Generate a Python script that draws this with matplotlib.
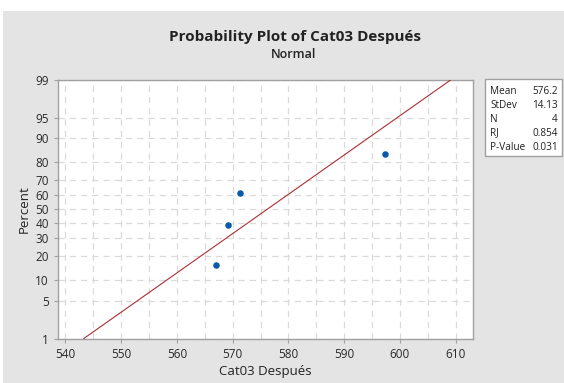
import matplotlib
matplotlib.use("Agg")
import matplotlib.pyplot as plt
from matplotlib.patches import Rectangle
from statistics import NormalDist

# data
values = [567.0, 569.2, 571.4, 597.3]
mean = 576.2
stdev = 14.13
stats_names = ["Mean", "StDev", "N", "RJ", "P-Value"]
stats_vals = ["576.2", "14.13", "4", "0.854", "0.031"]
pct_ticks = [1, 5, 10, 20, 30, 40, 50, 60, 70, 80, 90, 95, 99]
x_ticks = [540, 550, 560, 570, 580, 590, 600, 610]

plt.rcParams['font.family'] = ['Open Sans', 'DejaVu Sans']
nd = NormalDist()
n = len(values)
ranks = [(i + 1 - 0.3) / (n + 0.4) for i in range(n)]   # median ranks
z_pts = [nd.inv_cdf(r) for r in ranks]

W, H = 564, 383
fig = plt.figure(figsize=(W / 100, H / 100), dpi=100)
fig.patch.set_facecolor("white")
fig.patches.append(Rectangle((3 / W, 0), 1, 1 - 11 / H, transform=fig.transFigure,
                             facecolor="#e4e4e4", edgecolor="none", zorder=-10))

ax = fig.add_axes([58 / W, 1 - 338.5 / H, (472.5 - 58) / W, (338.5 - 80) / H])
ax.set_facecolor("white")

zlo, zhi = nd.inv_cdf(0.01), nd.inv_cdf(0.99)
ax.plot([mean + stdev * zlo, mean + stdev * zhi], [zlo, zhi], color="#ad2e33", lw=0.8, zorder=3)
ax.scatter(sorted(values), z_pts, s=22, color="#0b5aaa", zorder=4, linewidths=0)

ax.set_xlim(538.7, 613.0)
ax.set_ylim(zlo, zhi)
ax.set_xticks(x_ticks)
ax.set_xticks(range(545, 615, 10), minor=True)
ax.set_yticks([nd.inv_cdf(p / 100) for p in pct_ticks])
ax.set_yticklabels([str(p) for p in pct_ticks])
ax.grid(True, which="both", color="#dadada", ls=(0, (5, 4)), lw=0.9)
ax.tick_params(which="both", colors="#a0a0a0", labelcolor="#2a2a2a", labelsize=8.5, length=3, width=0.8)
ax.tick_params(which="minor", length=0)
for s in ax.spines.values():
    s.set_color("#a0a0a0")
    s.set_linewidth(1.0)

ax.set_xlabel("Cat03 Después", fontsize=9.5, color="#222222", labelpad=3)
ax.set_ylabel("Percent", fontsize=9.5, color="#222222", labelpad=3)

fig.text(295 / W, 1 - 37 / H, "Probability Plot of Cat03 Después", ha="center", va="center",
         fontsize=11, fontweight="bold", color="#222222")
fig.text(294 / W, 1 - 55 / H, "Normal", ha="center", va="center", fontsize=9,
         fontweight="semibold", color="#222222")

# stats box
fig.patches.append(Rectangle((485 / W, 1 - 156 / H), (562 - 485) / W, (156 - 79) / H,
                             transform=fig.transFigure, facecolor="white",
                             edgecolor="#a0a0a0", lw=1.0))
for i, (nm, v) in enumerate(zip(stats_names, stats_vals)):
    y = 1 - (91 + 14 * i) / H
    fig.text(490 / W, y, nm, ha="left", va="center", fontsize=7.2, color="#222222")
    fig.text(558 / W, y, v, ha="right", va="center", fontsize=7.2, color="#222222")

fig.savefig("out.png", dpi=100)
